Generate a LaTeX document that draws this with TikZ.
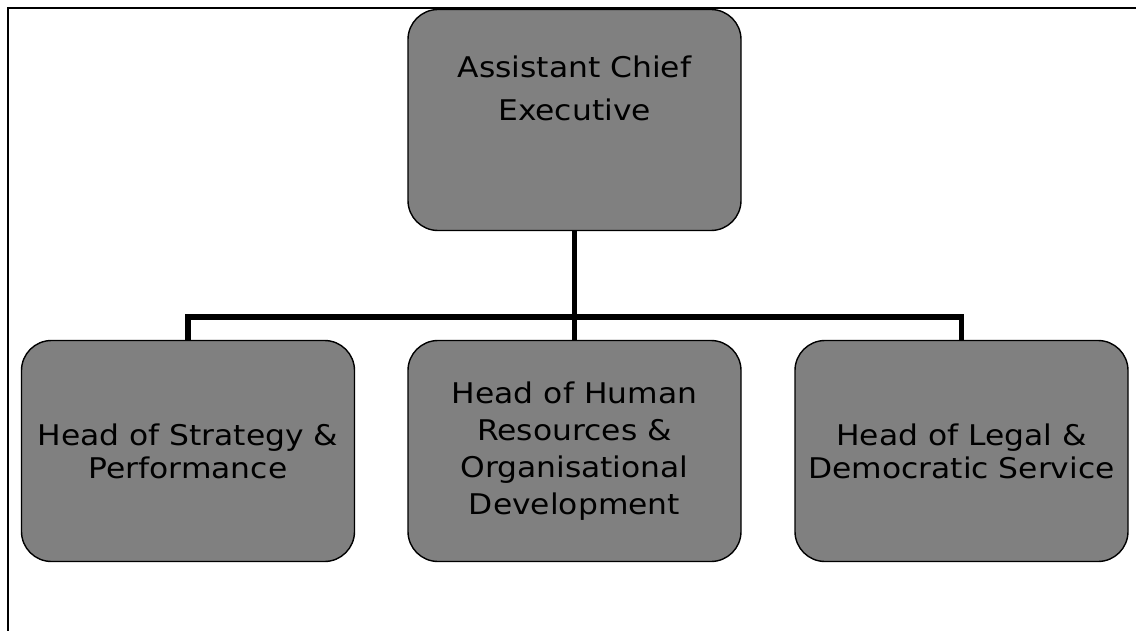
\documentclass[tikz,border=0pt]{standalone}
\usepackage{fontspec}
\setmainfont{DejaVu Sans}[FakeStretch=1.1]
\usepackage{tikz}
\usetikzlibrary{positioning}

\begin{document}
\begin{tikzpicture}[x=1pt,y=-1pt,
    post/.style={draw,line width=1.4pt,fill=gray,rounded corners=30pt,
      minimum width=333pt,minimum height=221pt,align=center,inner sep=0pt,
      font=\fontsize{28.5}{33}\selectfont},
    link/.style={draw,line width=5.5pt}]
  \useasboundingbox (0,0) rectangle (1136,631);

  % open frame (left and top edges only)
  \draw[line width=2.6pt] (8,631) -- (8,8) -- (1136,8);

  \node(ace)[post,text depth=64pt,font=\fontsize{28.5}{43}\selectfont] at (574.5,120)
      {Assistant Chief\\Executive};

  \node(hsp)[post] at (188,451) {Head of Strategy \&\\Performance};
  \node(hhr)[post,font=\fontsize{28.5}{37}\selectfont] at (574.5,451)
      {Head of Human\\Resources \&\\Organisational\\Development};
  \node(hld)[post] at (961.5,451) {Head of Legal \&\\Democratic Service};

  \coordinate(bus) at (574.5,317);
  \path[link] (ace.south) -- (bus);
  \path[link] (hsp.north) |- (bus) -| (hld.north);
  \path[link] (bus) -- (hhr.north);
\end{tikzpicture}
\end{document}
